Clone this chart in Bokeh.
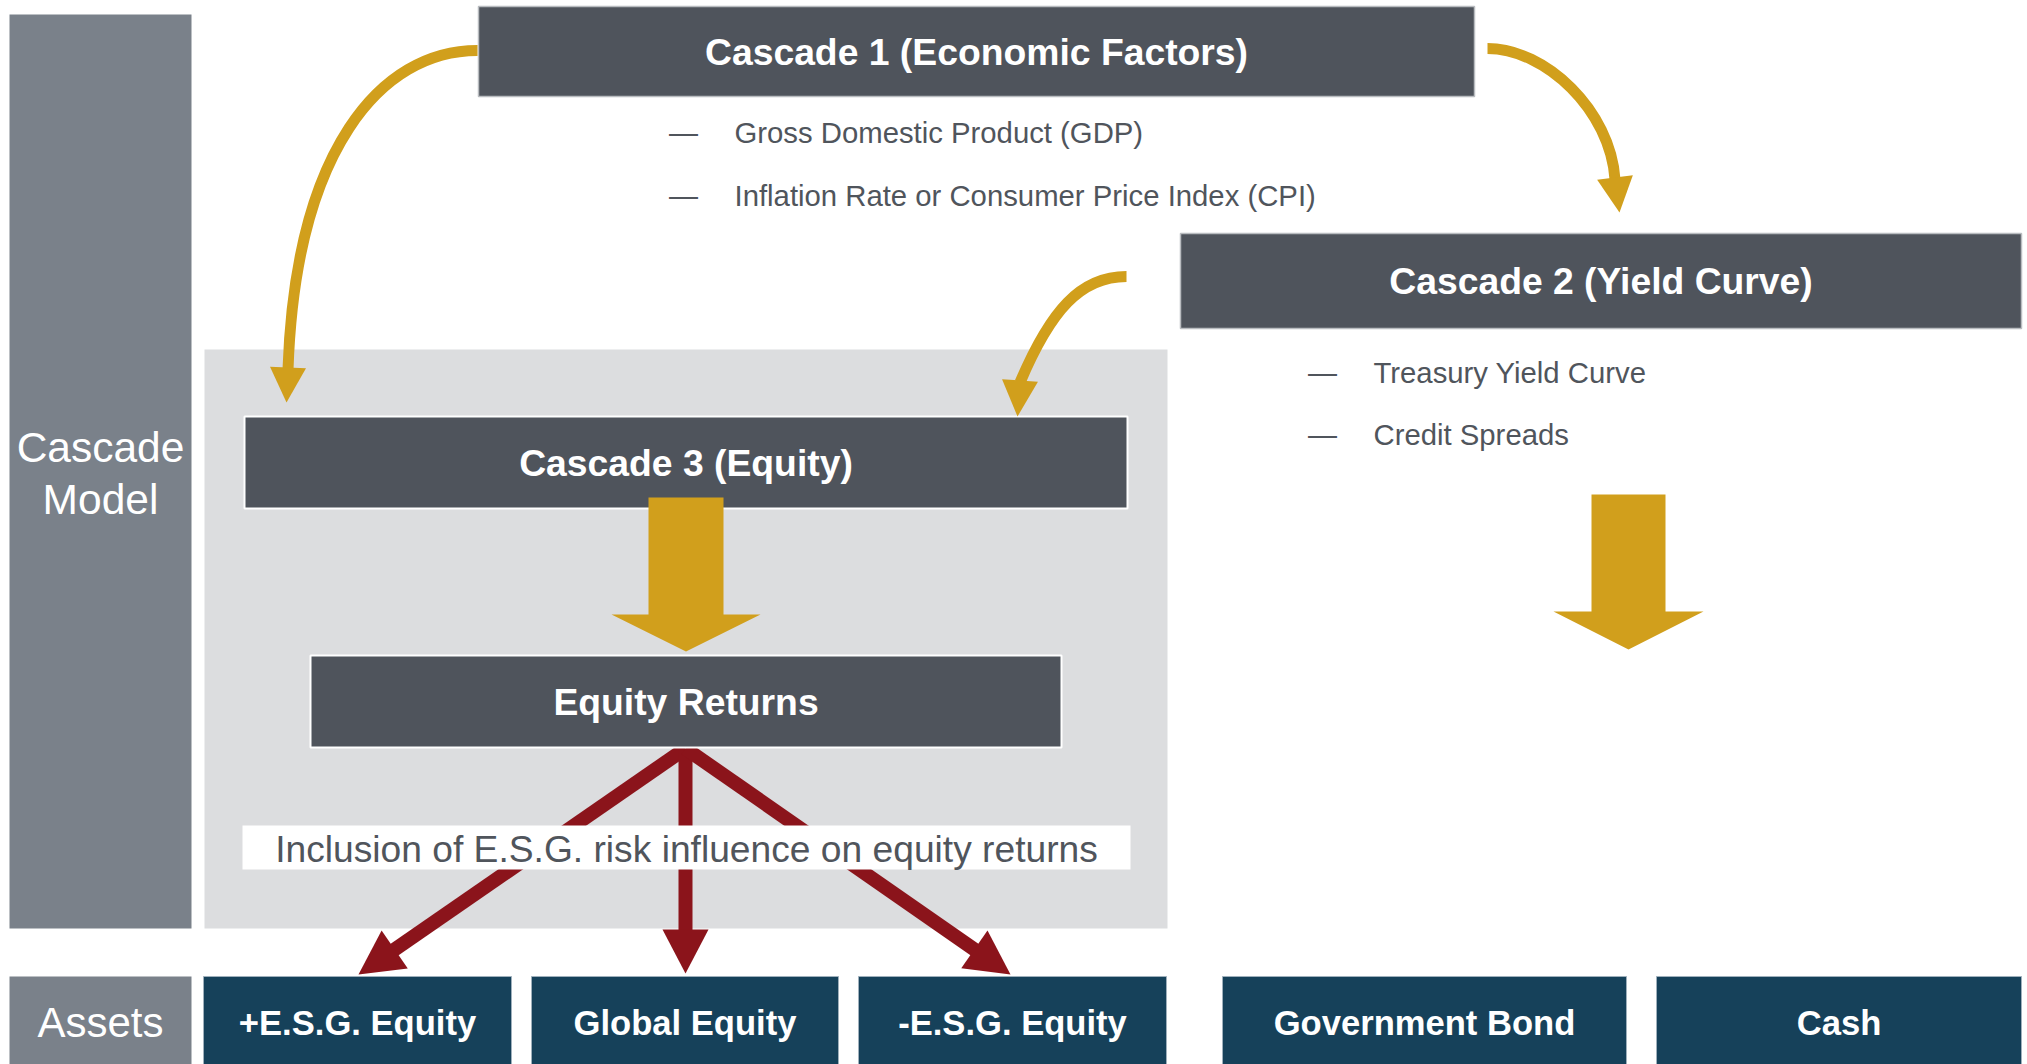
from bokeh.plotting import figure
from bokeh.models import Range1d
from bokeh.embed import file_html
from bokeh.resources import INLINE
from bokeh.core.properties import value
import math

# ---------------- content (text) ----------------
sidebar_top_lines = ["Cascade", "Model"]
sidebar_bottom_label = "Assets"
cascade_titles = ["Cascade 1 (Economic Factors)", "Cascade 2 (Yield Curve)",
                  "Cascade 3 (Equity)", "Equity Returns"]
cascade1_bullets = ["Gross Domestic Product (GDP)",
                    "Inflation Rate or Consumer Price Index (CPI)"]
cascade2_bullets = ["Treasury Yield Curve", "Credit Spreads"]
esg_note = "Inclusion of E.S.G. risk influence on equity returns"
asset_labels = ["+E.S.G. Equity", "Global Equity", "-E.S.G. Equity",
                "Government Bond", "Cash"]

# ---------------- layout (screen px, y downward) ----------------
W, H = 2027, 1064
X0, Y0 = 0, 0
FONT = "Liberation Sans"

SLATE = "#4f545c"
SIDE = "#7a818a"
LIGHT = "#dcdddf"
GOLD = "#d19f1c"
RED = "#8b141b"
TEAL = "#16415a"
TXT = "#50555c"

side_box = (9, 191, 14, 928)
assets_box = (9, 191, 976, 1070)
region = (204, 1167, 349, 928)
title_boxes = [(478, 1474, 6, 96), (1180, 2021, 233, 328),
               (244, 1127, 416, 508), (310, 1061, 655, 747)]
title_border = ["#b9bcc0", "#b9bcc0", "white", "white"]
bullet1_pos = dict(dash_x=683, text_x=734, ys=[132, 195])
bullet2_pos = dict(dash_x=1322, text_x=1373, ys=[372, 434])
note_box = (242, 1130, 825, 869)
asset_boxes = [(203, 511), (531, 838), (858, 1166), (1222, 1626), (1656, 2021)]
asset_y = (976, 1070)

p = figure(width=W, height=H, x_range=Range1d(X0, X0 + W), y_range=Range1d(Y0 + H, Y0),
           output_backend="svg", toolbar_location=None, min_border=0)
p.axis.visible = False
p.grid.visible = False
p.outline_line_color = None
p.background_fill_color = "white"
p.border_fill_color = "white"


def box(b, fill, line=None, lw=0):
    l, r, t, bt = b
    p.quad(left=l, right=r, top=t, bottom=bt, fill_color=fill,
           line_color=line, line_width=lw)


def head(tip, base, width, color):
    tx, ty = tip
    bx, by = base
    dx, dy = tx - bx, ty - by
    n = math.hypot(dx, dy)
    px, py = -dy / n * width / 2, dx / n * width / 2
    p.patch([bx + px, tx, bx - px], [by + py, ty, by - py], fill_color=color, line_color=None)


def label(x, y, txt, size, color, bold=False, align="center"):
    p.text(x=[x], y=[y], text=[txt], text_font=value(FONT), text_font_size=f"{size}px",
           text_color=color, text_align=align, text_baseline="middle",
           text_font_style="bold" if bold else "normal")


# sidebar
box(side_box, SIDE)
box(assets_box, SIDE)
cx_side = (side_box[0] + side_box[1]) / 2
for yy, t in zip([447, 499], sidebar_top_lines):
    label(cx_side, yy, t, 42.5, "white")
label(cx_side, 1022, sidebar_bottom_label, 42, "white")

# grey region
box(region, LIGHT)

# red arrows
apex = (685, 748)
red_tips = [(358, 974), (685, 973), (1010, 974)]
for tip in red_tips:
    dx, dy = tip[0] - apex[0], tip[1] - apex[1]
    n = math.hypot(dx, dy)
    base = (tip[0] - dx / n * 44, tip[1] - dy / n * 44)
    p.line([apex[0], base[0] + dx / n * 4], [apex[1], base[1] + dy / n * 4],
           line_color=RED, line_width=14)
    head(tip, base, 46, RED)

# note box
box(note_box, "white")
label((note_box[0] + note_box[1]) / 2, 848, esg_note, 37.2, TXT)

# title boxes
for b, t, lc in zip(title_boxes, cascade_titles, title_border):
    box(b, SLATE, lc, 2 if lc == "white" else 1.5)
    label((b[0] + b[1]) / 2, (b[2] + b[3]) / 2, t, 37.3, "white", bold=True)

# bullets
for pos, items in [(bullet1_pos, cascade1_bullets), (bullet2_pos, cascade2_bullets)]:
    for yy, t in zip(pos["ys"], items):
        label(pos["dash_x"], yy, "\u2014", 29, TXT)
        label(pos["text_x"], yy, t, 29.3, TXT, align="left")


# gold block arrows
def block_arrow(cx, top, shaft_w, neck, head_w, tip):
    xs = [cx - shaft_w / 2, cx + shaft_w / 2, cx + shaft_w / 2, cx + head_w / 2, cx,
          cx - head_w / 2, cx - shaft_w / 2]
    ys = [top, top, neck, neck, tip, neck, neck]
    p.patch(xs, ys, fill_color=GOLD, line_color=None)


block_arrow(685.5, 497, 75, 614, 149, 651)
block_arrow(1628, 494, 74, 611, 150, 649)

# curved gold arrows
curves = [
    dict(p0=(477, 50), c0=(380, 50), c1=(295, 150), p1=(287.5, 369), tip=(286, 402)),
    dict(p0=(1487, 48), c0=(1545, 48), c1=(1610, 110), p1=(1614.5, 179), tip=(1619, 212)),
    dict(p0=(1126, 276), c0=(1080, 276), c1=(1050, 310), p1=(1019.5, 382), tip=(1017, 416)),
]
for c in curves:
    p.bezier(x0=[c["p0"][0]], y0=[c["p0"][1]], x1=[c["p1"][0]], y1=[c["p1"][1]],
             cx0=[c["c0"][0]], cy0=[c["c0"][1]], cx1=[c["c1"][0]], cy1=[c["c1"][1]],
             line_color=GOLD, line_width=11)
    base = (c["p1"][0], c["p1"][1] - 2)
    head(c["tip"], base, 36, GOLD)

# asset boxes
for (l, r), t in zip(asset_boxes, asset_labels):
    box((l, r, asset_y[0], asset_y[1]), TEAL, "#9fb0bc", 1)
    label((l + r) / 2, 1022, t, 34.6, "white", bold=True)

open("out.html", "w").write(file_html(p, INLINE))
